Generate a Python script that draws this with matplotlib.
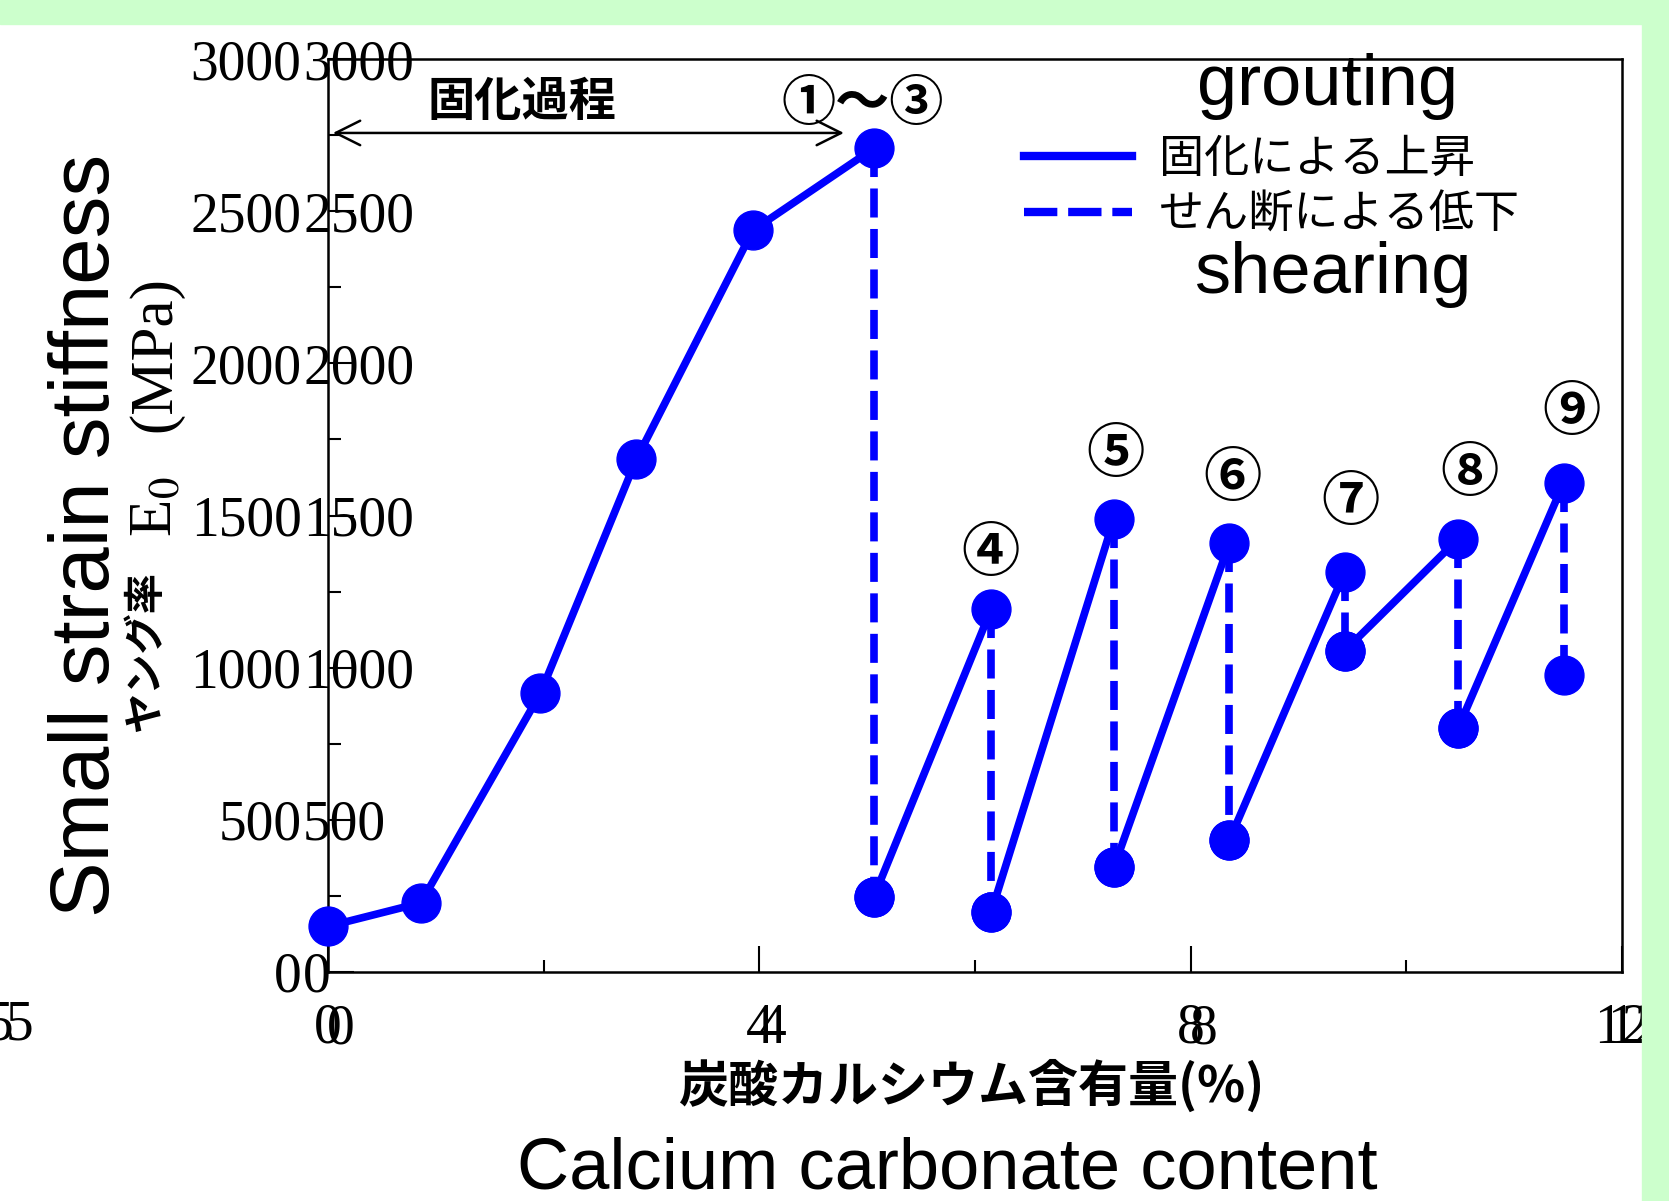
import matplotlib
matplotlib.use('Agg')
import matplotlib.pyplot as plt
from matplotlib.lines import Line2D
from matplotlib.patches import Rectangle
from matplotlib.transforms import offset_copy

plt.rcParams['mathtext.fontset'] = 'stix'

W, H = 1669, 1201

# rising part (grouting), 0 .. ③
x_rise = [0.0, 0.86, 1.97, 2.86, 3.94, 5.06]
y_rise = [150, 227, 916, 1685, 2437, 2706]

# each cycle: top value then value after shearing
x_cycle = [5.06, 6.15, 7.29, 8.36, 9.43, 10.48, 11.46]
y_top = [2706, 1192, 1490, 1409, 1315, 1423, 1608]
y_bottom = [245, 196, 346, 434, 1056, 801, 976]

marks = ['④', '⑤', '⑥', '⑦', '⑧', '⑨']
x_marks = [6.14, 7.30, 8.39, 9.48, 10.59, 11.53]
y_marks = [1374, 1699, 1619, 1542, 1636, 1836]

xticks = [0, 4, 8, 12]
yticks = [0, 500, 1000, 1500, 2000, 2500, 3000]

blue = '#0000FF'
jp = 'Noto Sans CJK JP'
serif = 'Liberation Serif'
sans = 'Liberation Sans'

fig = plt.figure(figsize=(W / 100, H / 100), dpi=100, facecolor='white')
ax = fig.add_axes([328 / W, 1 - 972 / H, (1622 - 328) / W, (972 - 59) / H])

lw = 5.5
ms = 28
dash = (0, (3.8, 1.5))
ax.plot(x_rise, y_rise, '-o', color=blue, lw=lw, ms=ms, clip_on=False, zorder=3)
for i in range(len(x_cycle)):
    ax.plot([x_cycle[i], x_cycle[i]], [y_top[i], y_bottom[i]], color=blue, lw=lw,
            linestyle=dash, zorder=2)
    ax.plot(x_cycle[i], y_bottom[i], 'o', color=blue, ms=ms, zorder=3)
    if i + 1 < len(x_cycle):
        ax.plot([x_cycle[i], x_cycle[i + 1]], [y_bottom[i], y_top[i + 1]], '-o',
                color=blue, lw=lw, ms=ms, zorder=3)

for s, x, y in zip(marks, x_marks, y_marks):
    ax.text(x, y, s, ha='center', va='center', fontsize=42, family=jp, fontweight='bold')

ax.text(4.96, 2850, '①〜③', ha='center', va='center', fontsize=39, family=jp,
        fontweight='bold')
ax.annotate('', xy=(0.02, 2757), xytext=(4.81, 2757),
            arrowprops=dict(arrowstyle='<->', color='black', lw=1.8, mutation_scale=44))
ax.text(1.8, 2860, '固化過程', ha='center', va='center', fontsize=34, family=jp,
        fontweight='bold')

ax.set_xlim(0, 12)
ax.set_ylim(0, 3000)
ax.set_xticks(xticks)
ax.set_xticks([2, 6, 10], minor=True)
ax.set_yticks(yticks)
ax.set_yticks([250, 750, 1250, 1750, 2250, 2750], minor=True)
ax.set_xticklabels([str(v) for v in xticks], family=serif, fontsize=40)
ax.set_yticklabels([str(v) for v in yticks], family=serif, fontsize=40)
ax.tick_params(axis='both', which='major', direction='in', length=19, width=1.5)
ax.tick_params(axis='both', which='minor', direction='in', length=9, width=1.5)
ax.tick_params(axis='x', pad=22)
ax.tick_params(axis='y', pad=19)
for sp in ax.spines.values():
    sp.set_linewidth(1.8)

# doubled tick labels
tx = offset_copy(ax.get_xaxis_transform(), fig=fig, x=13, y=-31, units='dots')
for v in xticks:
    ax.text(v, 0, str(v), transform=tx, ha='center', va='top', family=serif, fontsize=40)
ty = offset_copy(ax.get_yaxis_transform(), fig=fig, x=-25, y=0, units='dots')
for v in yticks:
    ax.text(0, v, str(v), transform=ty, ha='left', va='center_baseline', family=serif,
            fontsize=40)
fig.text(33 / W, 1 - 1026 / H, '5', ha='right', va='center', family=serif, fontsize=40)
fig.text(13 / W, 1 - 1026 / H, '5', ha='right', va='center', family=serif, fontsize=40)

# legend
handles = [Line2D([], [], color=blue, lw=6),
           Line2D([], [], color=blue, lw=6, linestyle=(0, (4.0, 1.3)))]
fig.legend(handles, ['固化による上昇', 'せん断による低下'], loc='upper left',
           bbox_to_anchor=(1024 / W, 1 - 136 / H), bbox_transform=fig.transFigure,
           frameon=False, prop={'family': jp, 'size': 32.5}, handlelength=2.4,
           handletextpad=0.6, labelspacing=0.22, borderpad=0, borderaxespad=0)
fig.text(1328 / W, 1 - 86 / H, 'grouting', ha='center', va='center', family=sans, fontsize=52)
fig.text(1333 / W, 1 - 274 / H, 'shearing', ha='center', va='center', family=sans, fontsize=52)

# axis titles
fig.text(87 / W, 1 - 535 / H, 'Small strain stiffness', rotation=90, ha='center',
         va='center', family=sans, fontsize=60)
fig.text(146 / W, 1 - 732 / H, 'ヤング率', rotation=90, rotation_mode='anchor',
         ha='left', va='center', family=jp, fontweight='bold', fontsize=29)
fig.text(157 / W, 1 - 537 / H, r'E$_0$', rotation=90, rotation_mode='anchor',
         ha='left', va='center', family=serif, fontsize=44)
fig.text(155 / W, 1 - 432 / H, '(MPa)', rotation=90, rotation_mode='anchor',
         ha='left', va='center', family=serif, fontsize=44)
fig.text(971 / W, 1 - 1086 / H, '炭酸カルシウム含有量(%)', ha='center', va='center',
         family=jp, fontweight='bold', fontsize=36)
fig.text(947 / W, 1 - 1170 / H, 'Calcium carbonate content', ha='center', va='center',
         family=sans, fontsize=52)

# green frame
green = '#CCFFCC'
fig.patches.append(Rectangle((0, 1 - 24 / H), 1, 24 / H, transform=fig.transFigure,
                             color=green, zorder=10))
fig.patches.append(Rectangle((1642 / W, 0), 27 / W, 1, transform=fig.transFigure,
                             color=green, zorder=10))

fig.savefig('out.png', dpi=100)
